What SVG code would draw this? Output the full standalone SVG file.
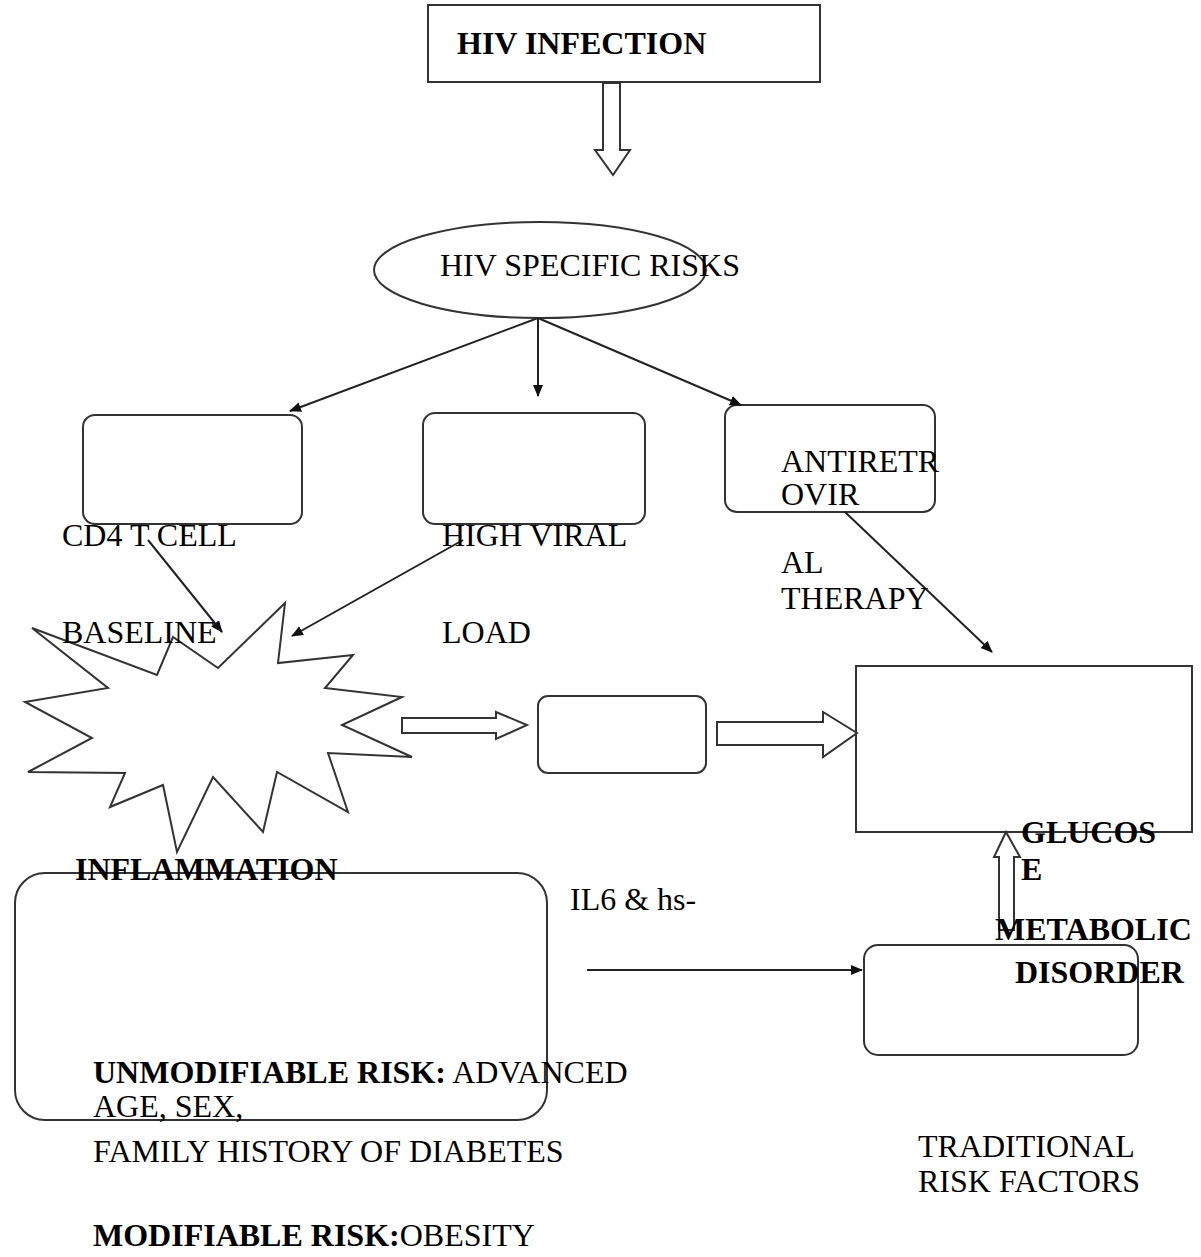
<svg xmlns="http://www.w3.org/2000/svg" width="1201" height="1257" viewBox="0 0 1201 1257">
<defs>
<style>
.sh{fill:#fff;stroke:#333;stroke-width:2}
.ln{stroke:#222;stroke-width:2;fill:none}
.t{font-family:"Liberation Serif","Times New Roman",serif;font-size:32px;fill:#000}
.b{font-weight:bold}
</style>
<marker id="ah" markerWidth="12" markerHeight="12" refX="11" refY="6" orient="auto" markerUnits="userSpaceOnUse">
<path d="M0,1 L12,6 L0,11 z" fill="#111"/>
</marker>
</defs>
<rect width="1201" height="1257" fill="#fff"/>
<g id="n-hiv-infection">
<rect class="sh" x="428" y="5" width="392" height="77"/>
<text class="t b" x="457" y="54" font-size="36">HIV INFECTION</text>
</g>
<g id="n-hiv-specific">
<ellipse class="sh" cx="540" cy="270" rx="166" ry="48"/>
<text class="t" x="440" y="276">HIV SPECIFIC RISKS</text>
</g>
<g id="n-cd4">
<rect class="sh" x="83" y="415" width="219" height="109" rx="12"/>
</g>
<g id="n-viral">
<rect class="sh" x="423" y="413" width="222" height="111" rx="12"/>
</g>
<g id="n-art">
<rect class="sh" x="725" y="405" width="210" height="107" rx="12"/>
</g>
<g id="n-inflammation">
<polygon class="sh" points="285,603 278,663 353,655 325,688 402,697 342,725 412,757 328,753 348,812 277,772 263,832 213,777 177,852 163,785 110,807 125,773 28,772 92,738 25,702 108,688 32,628 157,675 173,637 218,668"/>
</g>
<g id="n-il6">
<rect class="sh" x="538" y="696" width="168" height="77" rx="10"/>
</g>
<g id="n-glucose">
<rect class="sh" x="856" y="666" width="336" height="166"/>
</g>
<g id="n-risk">
<rect class="sh" x="15" y="873" width="532" height="247" rx="30"/>
</g>
<g id="n-traditional">
<rect class="sh" x="864" y="945" width="274" height="110" rx="14"/>
</g>
<g id="connectors">
<path class="sh" d="M603,83 L620,83 L620,150 L630,150 L613,175 L595,150 L603,150 Z"/>
<line class="ln" x1="538" y1="318" x2="290" y2="411" marker-end="url(#ah)"/>
<line class="ln" x1="538" y1="318" x2="538" y2="396" marker-end="url(#ah)"/>
<line class="ln" x1="538" y1="318" x2="741" y2="405" marker-end="url(#ah)"/>
<line class="ln" x1="148" y1="540" x2="222" y2="632" marker-end="url(#ah)"/>
<line class="ln" x1="463" y1="540" x2="292" y2="636" marker-end="url(#ah)"/>
<line class="ln" x1="845" y1="512" x2="992" y2="652" marker-end="url(#ah)"/>
<path class="sh" d="M402,718 L496,718 L496,712 L527,725 L496,739 L496,733 L402,733 Z"/>
<path class="sh" d="M717,722 L823,722 L823,712 L857,733 L823,757 L823,745 L717,745 Z"/>
<path class="sh" d="M999,930 L999,857 L994,857 L1006,832 L1020,857 L1014,857 L1014,930 Z"/>
<line class="ln" x1="587" y1="970" x2="862" y2="970" marker-end="url(#ah)"/>
</g>
<g id="labels">
<text class="t" x="62" y="546">CD4 T CELL</text>
<text class="t" x="62" y="643">BASELINE</text>
<text class="t" x="442" y="546">HIGH VIRAL</text>
<text class="t" x="442" y="643">LOAD</text>
<text class="t" x="781" y="472">ANTIRETR</text>
<text class="t" x="781" y="505">OVIR</text>
<text class="t" x="781" y="573">AL</text>
<text class="t" x="781" y="609">THERAPY</text>
<text class="t b" x="75" y="880">INFLAMMATION</text>
<text class="t" x="570" y="910">IL6 &amp; hs-</text>
<text class="t b" x="1021" y="843">GLUCOS</text>
<text class="t b" x="1021" y="880">E</text>
<text class="t b" x="995" y="940">METABOLIC</text>
<text class="t b" x="1015" y="983">DISORDER</text>
<text class="t" x="93" y="1083"><tspan class="b">UNMODIFIABLE RISK:</tspan> ADVANCED</text>
<text class="t" x="93" y="1117">AGE, SEX,</text>
<text class="t" x="93" y="1162">FAMILY HISTORY OF DIABETES</text>
<text class="t" x="93" y="1246"><tspan class="b">MODIFIABLE RISK:</tspan>OBESITY</text>
<text class="t" x="918" y="1157">TRADITIONAL</text>
<text class="t" x="918" y="1192">RISK FACTORS</text>
</g>
</svg>
